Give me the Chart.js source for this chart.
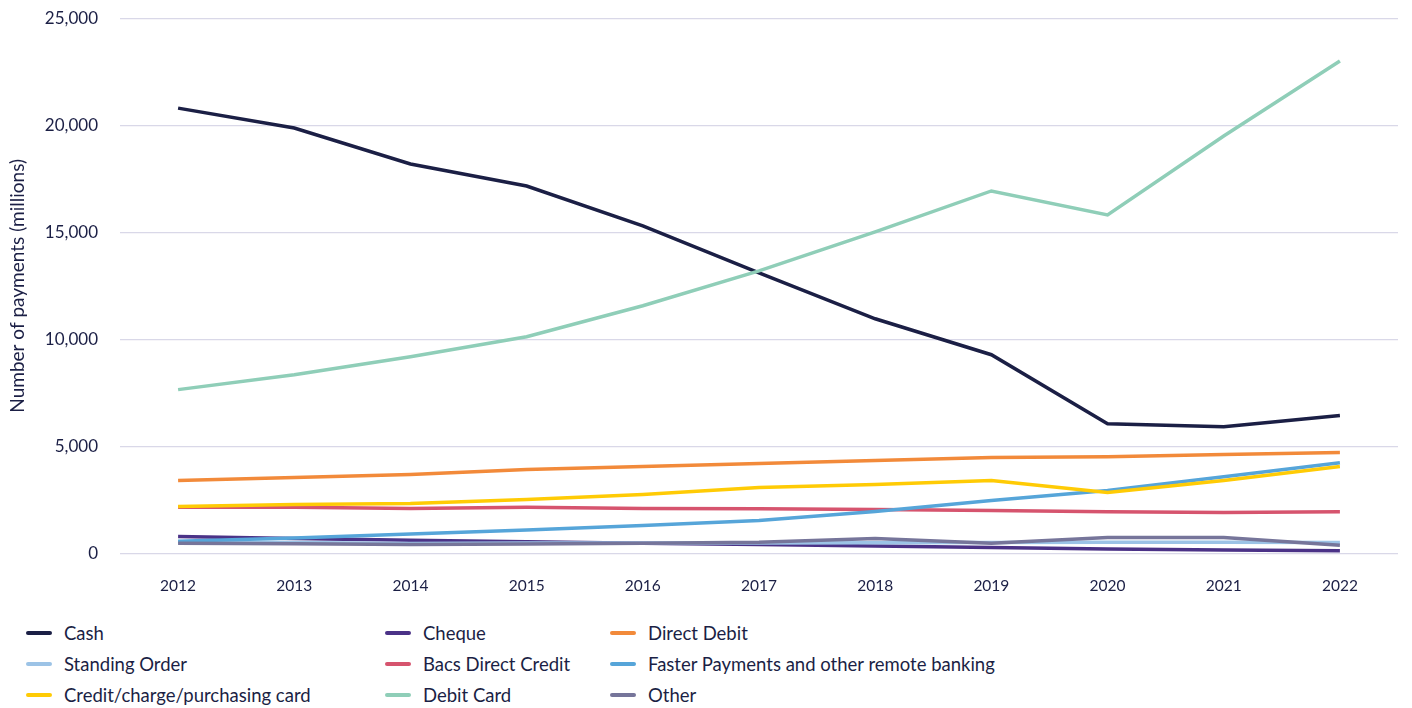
<!DOCTYPE html>
<html>
<head>
<meta charset="utf-8">
<script src="https://cdn.jsdelivr.net/npm/chart.js@4.4.0/dist/chart.umd.min.js"></script>
<style>
    body { margin: 0; background: #ffffff; font-family: 'Lato', sans-serif; color: #1b1f45; overflow: hidden; }
    #wrap { position: absolute; left: 0; top: -14px; width: 1412px; height: 632px; }
    #legend { position: absolute; left: 26px; top: 623px; display: grid;
        grid-template-columns: 359px 225px 400px; row-gap: 11px; }
    .item { display: flex; align-items: center; font-size: 18.5px; height: 20px; white-space: nowrap; }
    .swatch { width: 26px; height: 4px; border-radius: 2px; margin-right: 12px; }
</style>
</head>
<body>
<div id="wrap"><canvas id="chart"></canvas></div>
<div id="legend"></div>
<script>
const years = ['2012', '2013', '2014', '2015', '2016', '2017', '2018', '2019', '2020', '2021', '2022'];

const cash = [20800, 19870, 18190, 17160, 15300, 13100, 10960, 9280, 6060, 5920, 6440];
const cheque = [790, 700, 620, 540, 470, 410, 340, 270, 210, 160, 120];
const directDebit = [3400, 3540, 3680, 3920, 4060, 4200, 4340, 4480, 4520, 4620, 4710];
const standingOrder = [520, 510, 460, 480, 480, 480, 500, 510, 520, 520, 510];
const bacsDirectCredit = [2150, 2150, 2100, 2150, 2100, 2080, 2050, 2000, 1940, 1910, 1940];
const fasterPayments = [570, 720, 910, 1090, 1300, 1540, 1960, 2470, 2940, 3580, 4230];
const creditCard = [2190, 2290, 2330, 2520, 2750, 3080, 3220, 3400, 2840, 3400, 4060];
const debitCard = [7650, 8350, 9190, 10120, 11570, 13200, 15020, 16930, 15810, 19500, 23000];
const other = [470, 450, 410, 440, 470, 520, 700, 480, 740, 740, 380];

const yTicks = [0, 5000, 10000, 15000, 20000, 25000];

const series = [
    { label: 'Cash', data: cash, color: '#1b1f45' },
    { label: 'Cheque', data: cheque, color: '#4b3287' },
    { label: 'Direct Debit', data: directDebit, color: '#f28a3a' },
    { label: 'Standing Order', data: standingOrder, color: '#9cc3e6' },
    { label: 'Bacs Direct Credit', data: bacsDirectCredit, color: '#d6546e' },
    { label: 'Faster Payments and other remote banking', data: fasterPayments, color: '#56a5d9' },
    { label: 'Credit/charge/purchasing card', data: creditCard, color: '#ffcb05' },
    { label: 'Debit Card', data: debitCard, color: '#8fceb8' },
    { label: 'Other', data: other, color: '#76759a' }
];

// HTML legend in three columns
const legendEl = document.getElementById('legend');
series.forEach(s => {
    const el = document.createElement('div');
    el.className = 'item';
    el.innerHTML = `<span class="swatch" style="background:${s.color}"></span>${s.label}`;
    legendEl.appendChild(el);
});

const ctx = document.getElementById('chart').getContext('2d');
Chart.defaults.font.family = "'Lato', sans-serif";
Chart.defaults.color = '#1b1f45';

new Chart(ctx, {
    type: 'line',
    data: {
        labels: years,
        datasets: series.map((s, i) => ({
            label: s.label,
            data: s.data,
            borderColor: s.color,
            backgroundColor: s.color,
            borderWidth: 3.5,
            pointRadius: 0,
            tension: 0,
            order: series.length - i
        }))
    },
    options: {
        responsive: true,
        maintainAspectRatio: false,
        animation: false,
        layout: { padding: { top: 8, right: 14, left: 0, bottom: 0 } },
        plugins: {
            legend: { display: false },
            tooltip: { enabled: false }
        },
        scales: {
            x: {
                offset: true,
                grid: { display: false, drawTicks: false },
                border: { display: false },
                ticks: { font: { size: 15.5 }, padding: 23 }
            },
            y: {
                min: 0,
                max: 25000,
                afterBuildTicks: axis => { axis.ticks = yTicks.map(v => ({ value: v })); },
                afterFit: axis => { axis.width = 120; },
                grid: { color: '#d9d8e8', lineWidth: 1.2, drawTicks: false },
                border: { display: false },
                ticks: {
                    font: { size: 17 },
                    padding: 22,
                    callback: v => v.toLocaleString('en-GB')
                },
                title: {
                    display: true,
                    text: 'Number of payments (millions)',
                    font: { size: 19 },
                    padding: { top: 6, bottom: 0 }
                }
            }
        }
    }
});
</script>
</body>
</html>
